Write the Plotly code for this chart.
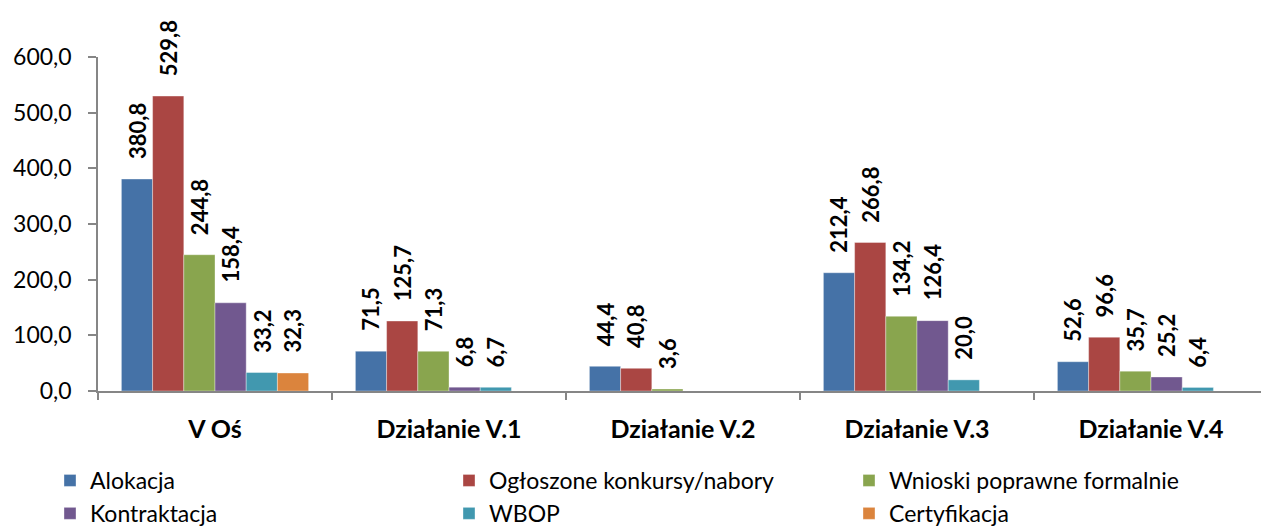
import plotly.graph_objects as go

categories = ["V Oś", "Działanie V.1", "Działanie V.2", "Działanie V.3", "Działanie V.4"]

alokacja = [380.8, 71.5, 44.4, 212.4, 52.6]
ogloszone = [529.8, 125.7, 40.8, 266.8, 96.6]
wnioski = [244.8, 71.3, 3.6, 134.2, 35.7]
kontraktacja = [158.4, 6.8, None, 126.4, 25.2]
wbop = [33.2, 6.7, None, 20.0, 6.4]
certyfikacja = [32.3, None, None, None, None]

series_names = ["Alokacja", "Ogłoszone konkursy/nabory", "Wnioski poprawne formalnie",
                "Kontraktacja", "WBOP", "Certyfikacja"]
series_values = [alokacja, ogloszone, wnioski, kontraktacja, wbop, certyfikacja]
colors = ["#4572A7", "#AA4643", "#89A54E", "#71588F", "#4198AF", "#DB843D"]
legend_ids = ["legend", "legend2", "legend3", "legend", "legend2", "legend3"]

FONT = "Lato"
BARGAP = 0.2
W, H = 1261, 527
ML, MR, MT, MB = 98, 0, 57, 136
PW, PH = W - ML - MR, H - MT - MB


def px_x(px):
    return (px - ML) / PW


def px_y(py):
    return (H - MB - py) / PH


fig = go.Figure()
for name, vals, col, lg in zip(series_names, series_values, colors, legend_ids):
    fig.add_trace(go.Bar(
        x=categories, y=vals, name=name, legend=lg,
        marker=dict(color=col, line=dict(color="rgba(255,255,255,0.6)", width=0.6)),
    ))

# value labels above each bar, rotated, placed at the bar's slot in its group
n = len(series_values)
slot = (1 - BARGAP) / n
annotations = []
for j, vals in enumerate(series_values):
    off = -(1 - BARGAP) / 2 + (j + 0.5) * slot
    for i, v in enumerate(vals):
        if v is None:
            continue
        annotations.append(dict(
            x=i + off, y=v, xref="x", yref="y",
            text=f"{v:.1f}".replace(".", ","),
            textangle=-90, showarrow=False,
            xanchor="center", yanchor="bottom", yshift=18,
            font=dict(family=FONT, size=22, color="black", weight="bold"),
        ))

legend_style = dict(
    orientation="v", xref="paper", yref="paper",
    xanchor="left", yanchor="top", y=px_y(459),
    font=dict(family=FONT, size=23, color="black"),
    bgcolor="rgba(0,0,0,0)", tracegroupgap=0, itemwidth=30,
)

fig.update_layout(
    width=W, height=H,
    barmode="group", bargap=BARGAP, bargroupgap=0,
    separators=", ",
    plot_bgcolor="white", paper_bgcolor="white",
    margin=dict(l=ML, r=MR, t=MT, b=MB, autoexpand=False),
    font=dict(family=FONT, color="black"),
    annotations=annotations,
    legend=dict(legend_style, x=px_x(50)),
    legend2=dict(legend_style, x=px_x(449)),
    legend3=dict(legend_style, x=px_x(849)),
    xaxis=dict(
        type="category", range=[-0.5, 4.47],
        showline=True, linecolor="#868686", linewidth=1.5,
        ticks="outside", tickson="boundaries", ticklen=7, tickcolor="#868686",
        tickwidth=1.5, showgrid=False,
        tickfont=dict(family=FONT, size=25, color="black", weight="bold"),
        ticklabelstandoff=15,
    ),
    yaxis=dict(
        range=[0, 600], dtick=100, tickformat=".1f",
        showline=True, linecolor="#868686", linewidth=1.5,
        ticks="outside", ticklen=8, tickcolor="#868686", tickwidth=1.5,
        showgrid=False, zeroline=False,
        tickfont=dict(family=FONT, size=23, color="black"),
        ticklabelstandoff=12,
    ),
)

fig.write_html("out.html")
